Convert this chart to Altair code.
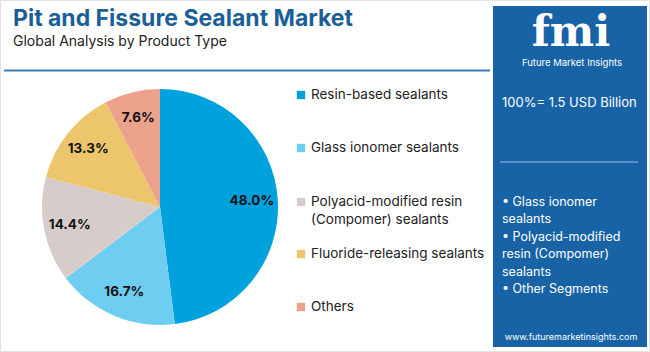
import altair as alt
import pandas as pd

categories = ["Resin-based sealants", "Glass ionomer sealants",
              "Polyacid-modified resin\n(Compomer) sealants",
              "Fluoride-releasing sealants", "Others"]
shares = [48.0, 16.7, 14.4, 13.3, 7.6]
colors = ["#00a2dd", "#70cdf2", "#d6cdca", "#ecc56c", "#eba18b"]
legend_y = [95, 148, 202, 254, 307]

title = "Pit and Fissure Sealant Market"
subtitle = "Global Analysis by Product Type"
total_text = "100%= 1.5 USD Billion"
bullets = ["• Glass ionomer", "sealants", "• Polyacid-modified", "resin (Compomer)",
           "sealants", "• Other Segments"]
bullet_y = [202, 219, 237, 254, 272, 289]
website = "www.futuremarketinsights.com"

W, H = 650, 352
FONT = "Inter"

df = pd.DataFrame({"cat": categories, "share": shares, "idx": range(len(shares)),
                   "label": [f"{s:.1f}%" for s in shares], "ly": legend_y})

color_scale = alt.Scale(domain=categories, range=colors)

base = alt.Chart(df)

pie = base.mark_arc(outerRadius=118).encode(
    theta=alt.Theta("share:Q", stack=True),
    color=alt.Color("cat:N", scale=color_scale, legend=None),
    order=alt.Order("idx:Q"),
    x=alt.value(160), y=alt.value(207),
)
pie_labels = base.mark_text(radius=92, font=FONT, fontSize=13.5, fontWeight="bold",
                            color="#111111").encode(
    theta=alt.Theta("share:Q", stack=True),
    order=alt.Order("idx:Q"),
    text="label:N",
    x=alt.value(160), y=alt.value(207),
)

ypos = alt.Y("ly:Q", scale=alt.Scale(domain=[0, H], range=[0, H]), axis=None)
leg_sym = base.mark_square(size=70, opacity=1).encode(
    x=alt.value(301), y=ypos,
    color=alt.Color("cat:N", scale=color_scale, legend=None),
)
leg_txt = base.mark_text(align="left", baseline="middle", font=FONT, fontSize=13.5,
                         color="#222222", lineBreak="\n", lineHeight=18).encode(
    x=alt.value(311), y=ypos, text="cat:N",
)

one = pd.DataFrame({"a": [0]})
deco = alt.Chart(one)

panel = deco.mark_rect(color="#1763a6").encode(
    x=alt.value(493), x2=alt.value(647), y=alt.value(6), y2=alt.value(347))
border = deco.mark_rect(fill=None, stroke="#e2e2e2", strokeWidth=1).encode(
    x=alt.value(0.5), x2=alt.value(649.5), y=alt.value(0.5), y2=alt.value(351.5))
hline = deco.mark_rule(color="#3b7cb8", strokeWidth=2).encode(
    x=alt.value(4), x2=alt.value(490), y=alt.value(70.5))
title_t = deco.mark_text(text=title, align="left", baseline="alphabetic", font=FONT,
                         fontSize=23, fontWeight="bold", color="#1b5f98").encode(
    x=alt.value(13), y=alt.value(26))
sub_t = deco.mark_text(text=subtitle, align="left", baseline="alphabetic", font=FONT,
                       fontSize=14, color="#222222").encode(
    x=alt.value(13), y=alt.value(46))
logo = deco.mark_text(text="fmi", align="center", baseline="alphabetic",
                      font="DejaVu Serif", fontSize=42, fontWeight="bold",
                      color="white").encode(x=alt.value(571), y=alt.value(46))
logo_sub = deco.mark_text(text="Future Market Insights", align="center",
                          baseline="alphabetic", font=FONT, fontSize=9.5,
                          color="white").encode(x=alt.value(572), y=alt.value(66))
total_t = deco.mark_text(text=total_text, align="left", baseline="middle", font=FONT,
                         fontSize=13, color="white").encode(x=alt.value(502), y=alt.value(103))
pline = deco.mark_rule(color="#9dbbe0", strokeWidth=1).encode(
    x=alt.value(500), x2=alt.value(638), y=alt.value(162))
web_t = deco.mark_text(text=website, align="center", baseline="middle", font=FONT,
                       fontSize=9, color="white").encode(x=alt.value(571), y=alt.value(337))

bdf = pd.DataFrame({"t": bullets, "y": bullet_y})
bul = alt.Chart(bdf).mark_text(align="left", baseline="middle", font=FONT, fontSize=12.5,
                               color="white").encode(
    x=alt.value(502),
    y=alt.Y("y:Q", scale=alt.Scale(domain=[0, H], range=[0, H]), axis=None),
    text="t:N")

chart = alt.layer(border, title_t, sub_t, hline, pie, pie_labels, leg_sym, leg_txt,
                  panel, logo, logo_sub, total_t, pline, bul, web_t).properties(
    width=W, height=H, padding=0, autosize=alt.AutoSizeParams(type="none"),
    background="white",
).configure_view(stroke=None).resolve_scale(color="shared")

chart.save("out.html", embed_options={"renderer": "svg", "actions": False})
